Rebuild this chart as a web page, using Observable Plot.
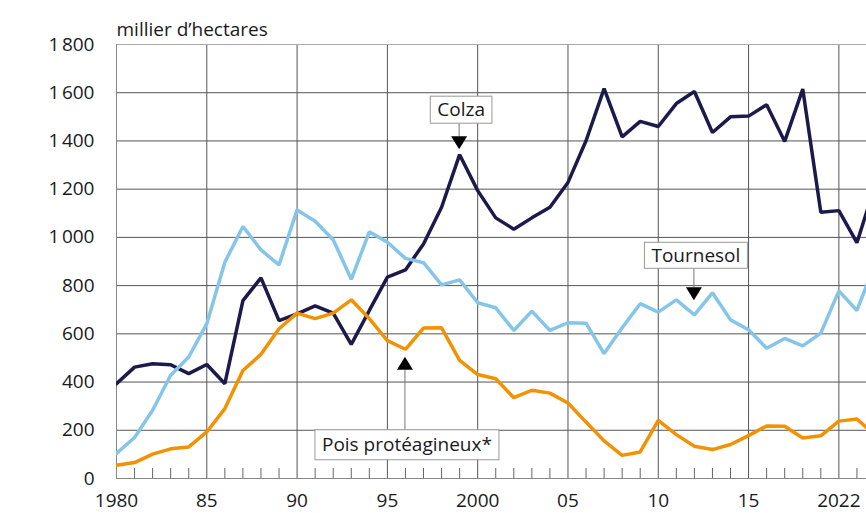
<!DOCTYPE html>
<html><head><meta charset="utf-8">
<script src="https://cdn.jsdelivr.net/npm/d3@7"></script>
<script src="https://cdn.jsdelivr.net/npm/@observablehq/plot@0.6"></script>
<style>
body{margin:0;background:#fff;}
</style>
</head><body><div id="chart"></div>
<script>
const years = [1980,1981,1982,1983,1984,1985,1986,1987,1988,1989,
  1990,1991,1992,1993,1994,1995,1996,1997,1998,1999,
  2000,2001,2002,2003,2004,2005,2006,2007,2008,2009,
  2010,2011,2012,2013,2014,2015,2016,2017,2018,2019,
  2020,2021,2022];
const colza = [393,462,476,472,435,473,393,738,832,655,
  683,716,686,556,697,835,865,973,1125,1343,
  1194,1081,1034,1081,1125,1228,1401,1617,1417,1481,
  1460,1555,1605,1435,1500,1503,1550,1398,1615,1104,
  1111,978,1215];
const tournesol = [104,170,283,428,504,642,897,1045,948,886,
  1114,1067,990,826,1023,980,913,895,803,824,
  729,708,614,694,614,646,644,518,625,725,
  690,741,679,770,658,617,540,581,550,603,
  778,697,890];
const pois = [55,66,101,123,131,193,290,448,515,621,
  686,663,686,741,663,572,536,624,625,490,
  431,414,335,366,354,313,234,156,96,110,
  241,182,134,120,141,178,218,217,168,177,
  238,247,180];
const seriesNames = ["Colza","Tournesol","Pois protéagineux*"];
const seriesColors = ["#1c1a4b","#85c5ea","#f39200"];
const xTicks = [1980,1985,1990,1995,2000,2005,2010,2015,2020];
const xLabels = ["1980","85","90","95","2000","05","10","15","2022"];
const minorYears = [1981,1982,1983,1984,1986,1987,1988,1989,1991,1992,1993,1994,
  1996,1997,1998,1999,2001,2002,2003,2004,2006,2007,2008,2009,2011,2012,2013,2014,
  2016,2017,2018,2019,2021];
const yTicks = [0,200,400,600,800,1000,1200,1400,1600,1800];
const yLabels = ["0","200","400","600","800","1\u202F000","1\u202F200","1\u202F400","1\u202F600","1\u202F800"];
const unitLabel = "millier d’hectares";
// annotations: year pointed at on each series
const annotYears = [1999, 2012, 1996];

const allSeries = [colza, tournesol, pois];
const data = [];
allSeries.forEach((vals, s) => vals.forEach((v, i) => data.push({name: seriesNames[s], year: years[i], value: v})));

const FONT = "'Open Sans', 'DejaVu Sans', sans-serif";
const FS = 19;
const plot = Plot.plot({
  width: 866, height: 513,
  marginLeft: 116, marginRight: 0, marginTop: 44, marginBottom: 35,
  x: {domain: [1980, 2021.53], axis: null},
  y: {domain: [0, 1800], axis: null},
  color: {domain: seriesNames, range: seriesColors},
  style: {fontSize: FS + "px", fontFamily: FONT, color: "#1a1a1a", background: "#fff"},
  marks: [
    Plot.ruleY(yTicks.slice(1, -1), {stroke: "#555", strokeWidth: 1, strokeOpacity: 1}),
    Plot.ruleX(xTicks.slice(1), {stroke: "#555", strokeWidth: 1, strokeOpacity: 1}),
    Plot.ruleY([0], {stroke: "#888", strokeWidth: 1}),
    Plot.ruleY([1800], {stroke: "#aaa", strokeWidth: 1}),
    Plot.ruleX([1980], {stroke: "#888", strokeWidth: 1}),
    Plot.axisX(minorYears, {anchor: "bottom", tickSize: -10, tickFormat: () => "", stroke: "#666", label: null}),
    Plot.axisX(xTicks, {anchor: "bottom", tickSize: 0, tickPadding: 15, tickFormat: d => xLabels[xTicks.indexOf(d)], label: null, fontSize: FS, fill: "#1a1a1a", fontFamily: FONT}),
    Plot.axisY(yTicks, {anchor: "left", tickSize: 0, tickPadding: 22, tickFormat: d => yLabels[yTicks.indexOf(d)], label: null, fontSize: FS, fill: "#1a1a1a", fontFamily: FONT}),
    Plot.text([unitLabel], {frameAnchor: "top-left", dy: -22, textAnchor: "start", fontSize: FS, fill: "#1a1a1a", fontFamily: FONT}),
    Plot.lineY(data, {x: "year", y: "value", z: "name", stroke: "name", strokeWidth: 3.5, clip: true, strokeLinejoin: "miter"})
  ]
});
plot.style.fontFamily = FONT;
document.getElementById("chart").appendChild(plot);

// callouts anchored to data points through the plot's scales
const sx = plot.scale("x"), sy = plot.scale("y");
const svg = d3.select(plot);
const callouts = [
  {s: 0, dir: "down", gap: 5, stem: 13, boxH: 27},
  {s: 1, dir: "down", gap: 14, stem: 19, boxH: 26},
  {s: 2, dir: "up", gap: 8, stem: 60, boxH: 30}
];
const g = svg.append("g").attr("font-family", FONT);
callouts.forEach((c, k) => {
  const yr = annotYears[k];
  const v = allSeries[c.s][years.indexOf(yr)];
  const px = sx.apply(yr), py = sy.apply(v);
  const tw = 16, th = 13;
  const sign = c.dir === "down" ? -1 : 1;
  const tip = py + sign * c.gap;
  const base = tip + sign * th;
  const boxEdge = base + sign * c.stem;
  g.append("line").attr("x1", px).attr("x2", px).attr("y1", base).attr("y2", boxEdge).attr("stroke", "#777").attr("stroke-width", 1);
  g.append("path").attr("d", `M${px},${tip}L${px - tw/2},${base}L${px + tw/2},${base}Z`).attr("fill", "#000");
  const t = g.append("text").attr("x", px + 2).attr("text-anchor", "middle").attr("font-size", 19).attr("fill", "#1a1a1a").text(seriesNames[c.s]);
  const boxTop = c.dir === "down" ? boxEdge - c.boxH : boxEdge;
  t.attr("y", boxTop + c.boxH / 2).attr("dy", "0.35em");
  const bb = t.node().getBBox();
  g.insert("rect", () => t.node()).attr("x", bb.x - 7).attr("y", boxTop).attr("width", bb.width + 14).attr("height", c.boxH)
    .attr("fill", "#fff").attr("stroke", "#999").attr("stroke-width", 1);
});
</script>
</body></html>
